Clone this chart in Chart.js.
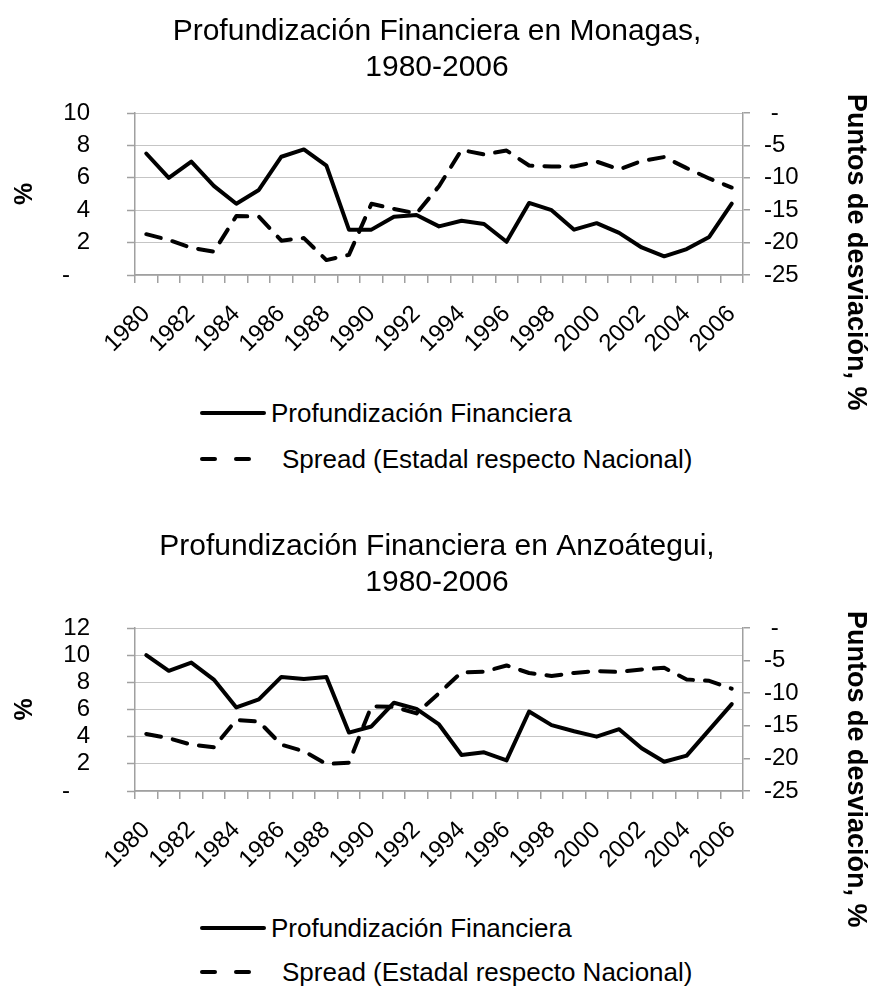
<!DOCTYPE html>
<html>
<head>
<meta charset="utf-8">
<script src="https://cdn.jsdelivr.net/npm/chart.js@4.4.1/dist/chart.umd.min.js"></script>
<style>
  body { margin: 0; background: #fff; font-family: "Liberation Sans", Arial, sans-serif; color: #000; }
  #page { position: relative; width: 874px; height: 987px; overflow: hidden; }
  canvas { position: absolute; left: 0; }
  .ytitle2 { position: absolute; left: 838px; width: 34px; writing-mode: vertical-rl; font-weight: bold; font-size: 27px; white-space: nowrap; text-align: center; }
  .legend { position: absolute; left: 200px; font-size: 26px; }
  .legend .row { display: flex; align-items: center; height: 46px; }
  .legend .solid { width: 66px; height: 4px; background: #000; border-radius: 2px; margin-right: 5px; }
  .legend .dash { width: 17px; height: 4px; background: #000; border-radius: 2px; margin-right: 17px; }
  .legend .dash.last { margin-right: 31px; }
</style>
</head>
<body>
<div id="page">
  <canvas id="c1" width="874" height="370" style="top:0"></canvas>
  <div class="ytitle2" style="top:92px;height:320px">Puntos de desviación, %</div>
  <div class="legend" style="top:390px">
    <div class="row"><span class="solid"></span>Profundización Financiera</div>
    <div class="row"><span class="dash"></span><span class="dash last"></span>Spread (Estadal respecto Nacional)</div>
  </div>

  <canvas id="c2" width="874" height="371" style="top:515px"></canvas>
  <div class="ytitle2" style="top:609px;height:320px">Puntos de desviación, %</div>
  <div class="legend" style="top:905px">
    <div class="row"><span class="solid"></span>Profundización Financiera</div>
    <div class="row" style="height:42px"><span class="dash"></span><span class="dash last"></span>Spread (Estadal respecto Nacional)</div>
  </div>
</div>

<script>
const years = ['1980', '1981', '1982', '1983', '1984', '1985', '1986', '1987', '1988', '1989',
  '1990', '1991', '1992', '1993', '1994', '1995', '1996', '1997', '1998', '1999',
  '2000', '2001', '2002', '2003', '2004', '2005', '2006'];

// Monagas
const monagasProf = [7.5, 6.0, 7.0, 5.5, 4.4, 5.25, 7.3, 7.75, 6.75, 2.8, 2.8, 3.6, 3.7, 3.0,
  3.35, 3.15, 2.05, 4.45, 4.0, 2.8, 3.2, 2.6, 1.7, 1.15, 1.6, 2.35, 4.4];
const monagasSpread = [-18.7, -19.6, -20.8, -21.4, -15.9, -16.0, -19.7, -19.3, -22.7, -21.9,
  -14.0, -14.8, -15.5, -11.3, -5.7, -6.4, -5.8, -8.1, -8.25, -8.25, -7.5, -8.7, -7.4, -6.8,
  -8.5, -10.1, -11.5];
const monagasLeftTicks = [0, 2, 4, 6, 8, 10];

// Anzoátegui
const anzoProf = [10.0, 8.85, 9.45, 8.2, 6.15, 6.75, 8.4, 8.25, 8.4, 4.3, 4.75, 6.5, 6.05, 4.9,
  2.65, 2.85, 2.25, 5.85, 4.85, 4.4, 4.0, 4.55, 3.15, 2.15, 2.6, 4.5, 6.4];
const anzoSpread = [-16.25, -16.9, -17.9, -18.3, -14.1, -14.35, -17.9, -18.9, -20.85, -20.65,
  -12.0, -12.1, -13.1, -10.0, -6.8, -6.7, -5.75, -6.9, -7.35, -6.9, -6.6, -6.75, -6.35, -6.1,
  -7.9, -8.1, -9.3];
const anzoLeftTicks = [0, 2, 4, 6, 8, 10, 12];

const spreadTicks = [-25, -20, -15, -10, -5, 0];

const FONT = '"Liberation Sans", Arial, sans-serif';
const AXIS_GREY = '#a0a0a0';

function makeChart(id, title, prof, spread, leftTicks) {
  return new Chart(document.getElementById(id), {
    type: 'line',
    data: {
      labels: years,
      datasets: [{
        label: 'Profundización Financiera',
        data: prof,
        yAxisID: 'y',
        borderColor: '#000',
        borderWidth: 4,
        borderJoinStyle: 'round',
        borderCapStyle: 'round',
        pointRadius: 0,
        tension: 0
      }, {
        label: 'Spread (Estadal respecto Nacional)',
        data: spread,
        yAxisID: 'y1',
        borderColor: '#000',
        borderWidth: 4,
        borderDash: [15, 12],
        borderJoinStyle: 'round',
        borderCapStyle: 'round',
        pointRadius: 0,
        tension: 0
      }]
    },
    options: {
      responsive: false,
      animation: false,
      layout: { padding: 0 },
      plugins: {
        legend: { display: false },
        tooltip: { enabled: false },
        title: {
          display: true,
          text: title,
          color: '#000',
          font: { family: FONT, size: 30, weight: 'normal', lineHeight: 1.2 },
          padding: { top: 14, bottom: 27 }
        }
      },
      scales: {
        x: {
          offset: true,
          grid: { offset: true, drawOnChartArea: false, tickLength: 8, color: AXIS_GREY, lineWidth: 1.5 },
          border: { color: AXIS_GREY, width: 1.5 },
          ticks: {
            autoSkip: false, minRotation: 45, maxRotation: 45, padding: 17,
            color: '#000', font: { family: FONT, size: 24 },
            callback: (v, i) => (i % 2 === 0 ? years[i] : '')
          },
          afterFit: s => { s.height = 95; }
        },
        y: {
          position: 'left',
          min: leftTicks[0],
          max: leftTicks[leftTicks.length - 1],
          afterBuildTicks: s => { s.ticks = leftTicks.map(v => ({ value: v })); },
          grid: { color: '#8a8a8a', lineWidth: 1, tickLength: 8, tickColor: AXIS_GREY, tickWidth: 1.5, tickBorderDash: [] },
          border: { color: AXIS_GREY, width: 1.5, dash: [1, 1] },
          ticks: {
            autoSkip: false, padding: 37, color: '#000', font: { family: FONT, size: 24 },
            callback: v => (v === 0 ? '-   ' : v)
          },
          title: { display: true, text: '%', color: '#000', font: { family: FONT, size: 25, weight: 'bold' }, padding: { top: 10 } },
          afterFit: s => { s.width = 135; }
        },
        y1: {
          position: 'right',
          min: spreadTicks[0],
          max: spreadTicks[spreadTicks.length - 1],
          afterBuildTicks: s => { s.ticks = spreadTicks.map(v => ({ value: v })); },
          grid: { drawOnChartArea: false, tickLength: 7, color: AXIS_GREY, lineWidth: 1.5 },
          border: { color: AXIS_GREY, width: 1.5 },
          ticks: {
            autoSkip: false, padding: 14, color: '#000', font: { family: FONT, size: 24 },
            callback: v => (v === 0 ? ' -' : v)
          },
          afterFit: s => { s.width = 131; }
        }
      }
    }
  });
}

makeChart('c1', ['Profundización Financiera en Monagas,', '1980-2006'], monagasProf, monagasSpread, monagasLeftTicks);
makeChart('c2', ['Profundización Financiera en Anzoátegui,', '1980-2006'], anzoProf, anzoSpread, anzoLeftTicks);
</script>
</body>
</html>
